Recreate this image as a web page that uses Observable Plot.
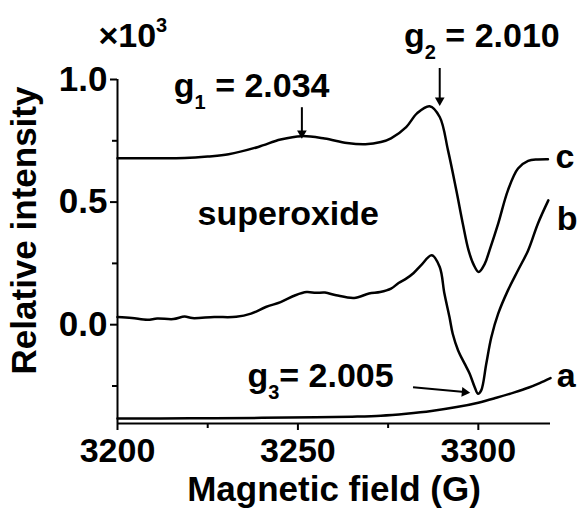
<!DOCTYPE html>
<html><head><meta charset="utf-8">
<script src="https://cdn.jsdelivr.net/npm/d3@7"></script>
<script src="https://cdn.jsdelivr.net/npm/@observablehq/plot@0.6"></script>
<style>body{margin:0;background:#fff}svg{display:block}</style>
</head><body><div id="chart"></div>
<script>
// axis extents and ticks
const xDomain = [3200, 3320];
const yDomain = [-0.403, 1.0];
const xMajorTicks = [3200, 3250, 3300];
const xMinorTicks = [3225, 3275];
const yMajorTicks = [0.0, 0.5, 1.0];
const yMinorTicks = [-0.25, 0.25, 0.75];

// spectrum a
const fieldA = [3200, 3220, 3240, 3255, 3265, 3273, 3280, 3287, 3294, 3300, 3305, 3310, 3314, 3317, 3320];
const intensityA = [-0.383, -0.382, -0.380, -0.378, -0.375, -0.371, -0.363, -0.352, -0.336, -0.318, -0.298, -0.276, -0.256, -0.238, -0.218];

// spectrum b
const fieldB = [3200, 3204, 3208.3, 3211, 3215.5, 3218.6, 3220.7, 3226.8, 3232.9, 3237, 3241.1, 3245.2, 3249.3, 3252.4, 3255, 3257.5, 3260.6, 3265.6, 3269.7, 3272.8, 3275.8, 3277.9, 3280, 3282, 3284.1, 3287.1, 3289.3, 3290.6, 3292, 3292.9, 3294.4, 3296.2, 3297.6, 3299, 3299.9, 3300.8, 3302.2, 3303.6, 3305.5, 3308.2, 3311, 3313.8, 3316.5, 3319.4];
const intensityB = [0.031, 0.027, 0.020, 0.025, 0.023, 0.033, 0.027, 0.031, 0.032, 0.045, 0.072, 0.092, 0.120, 0.133, 0.130, 0.131, 0.120, 0.109, 0.127, 0.133, 0.147, 0.170, 0.188, 0.210, 0.242, 0.283, 0.235, 0.127, 0.031, -0.037, -0.105, -0.159, -0.200, -0.255, -0.282, -0.268, -0.159, -0.051, 0.045, 0.140, 0.222, 0.303, 0.412, 0.507];

// spectrum c
const fieldC = [3200, 3210, 3218.6, 3225, 3230.8, 3239, 3245.2, 3251, 3257.4, 3263.6, 3268.7, 3273, 3275.8, 3280, 3283, 3286.5, 3289.3, 3291.6, 3293.9, 3295.7, 3297.3, 3298.7, 3300.1, 3301.8, 3303.1, 3305.5, 3308.2, 3311, 3313.8, 3316.5, 3319.3];
const intensityC = [0.679, 0.679, 0.680, 0.686, 0.695, 0.725, 0.755, 0.769, 0.759, 0.741, 0.736, 0.745, 0.760, 0.806, 0.862, 0.891, 0.847, 0.711, 0.548, 0.412, 0.303, 0.245, 0.215, 0.249, 0.303, 0.412, 0.548, 0.637, 0.668, 0.674, 0.675];

// text annotations (data units, baseline positions)
const labelTexts = ["×10", "g1 = 2.034", "g2 = 2.010", "g3= 2.005", "superoxide", "c", "b", "a"];
const labelX = [3194.7, 3215.6, 3279.4, 3236.0, 3222.2, 3321.4, 3321.7, 3321.7];
const labelY = [1.132, 0.928, 1.132, -0.255, 0.405, 0.638, 0.385, -0.256];

// arrows (start -> tip)
const arrowX1 = [3251.1, 3289.3, 3281.9];
const arrowY1 = [0.887, 1.047, -0.255];
const arrowX2 = [3251.1, 3289.3, 3296.2];
const arrowY2 = [0.781, 0.915, -0.275];

const spectra = [
  ...fieldA.map((x, i) => ({series: "a", field: x, intensity: intensityA[i]})),
  ...fieldB.map((x, i) => ({series: "b", field: x, intensity: intensityB[i]})),
  ...fieldC.map((x, i) => ({series: "c", field: x, intensity: intensityC[i]}))
];
const labels = labelTexts.map((t, i) => ({text: t, x: labelX[i], y: labelY[i]}));
const arrows = arrowX1.map((x, i) => ({x1: x, y1: arrowY1[i], x2: arrowX2[i], y2: arrowY2[i]}));

const FONT = "'Liberation Sans', Arial, Helvetica, sans-serif";

const chart = Plot.plot({
  width: 577,
  height: 512,
  marginLeft: 117,
  marginRight: 27,
  marginTop: 79,
  marginBottom: 89,
  style: {fontFamily: FONT, fontWeight: "bold", fontSize: "34px", background: "white", color: "black", overflow: "visible"},
  x: {domain: xDomain},
  y: {domain: yDomain},
  marks: [
    Plot.ruleY([yDomain[0]], {stroke: "black", strokeWidth: 2}),
    Plot.ruleX([xDomain[0]], {stroke: "black", strokeWidth: 2}),
    Plot.axisX({ticks: xMajorTicks, tickSize: 7, tickPadding: 7, strokeWidth: 2, tickFormat: d3.format("d"), fontSize: 34, fontWeight: "bold"}),
    Plot.axisX({ticks: xMinorTicks, tickSize: 5, strokeWidth: 2, tickFormat: () => ""}),
    Plot.axisY({ticks: yMajorTicks, tickSize: 7, tickPadding: 3, strokeWidth: 2, tickFormat: d3.format(".1f"), fontSize: 35, fontWeight: "bold"}),
    Plot.axisY({ticks: yMinorTicks, tickSize: 5, strokeWidth: 2, tickFormat: () => ""}),
    Plot.line(spectra, {x: "field", y: "intensity", z: "series", stroke: "black", strokeWidth: 2.5, curve: "catmull-rom"}),
    Plot.link(arrows, {x1: "x1", y1: "y1", x2: "x2", y2: "y2", stroke: "black", strokeWidth: 2, clip: false}),
    Plot.dot(arrows, {x: "x2", y: "y2", symbol: "triangle", r: 3.6, fill: "black", stroke: "none",
      rotate: d => 90 + Math.atan2(-(d.y2 - d.y1) * 245, (d.x2 - d.x1) * 3.6 + 1e-9) * 180 / Math.PI, clip: false}),
    Plot.text(labels, {x: "x", y: "y", text: "text", textAnchor: "start", lineAnchor: "bottom", fontSize: 34, fontWeight: "bold", fill: "black", clip: false}),
    Plot.text(["Magnetic field (G)"], {frameAnchor: "bottom", dy: 77, lineAnchor: "bottom", textAnchor: "middle", fontSize: 35, fontWeight: "bold", fill: "black"}),
    Plot.text(["Relative intensity"], {frameAnchor: "left", dx: -93, dy: -21, rotate: -90, textAnchor: "middle", lineAnchor: "middle", fontSize: 35, fontWeight: "bold", fill: "black"})
  ]
});

// subscripts / superscript
const scripts = {"×10": ["×10", "3", "", -15], "g1 = 2.034": ["g", "1", " = 2.034", 12], "g2 = 2.010": ["g", "2", " = 2.010", 12], "g3= 2.005": ["g", "3", "= 2.005", 12]};
chart.querySelectorAll("text").forEach(t => {
  const s = scripts[t.textContent];
  if (!s) return;
  const [pre, mid, post, shift] = s;
  t.textContent = "";
  const ns = "http://www.w3.org/2000/svg";
  const a = document.createElementNS(ns, "tspan"); a.textContent = pre; t.appendChild(a);
  const b = document.createElementNS(ns, "tspan"); b.textContent = mid; b.setAttribute("dy", shift); b.setAttribute("font-size", "20"); t.appendChild(b);
  if (post) { const c = document.createElementNS(ns, "tspan"); c.textContent = post; c.setAttribute("dy", -shift); t.appendChild(c); }
});
document.getElementById("chart").appendChild(chart);
</script></body></html>
